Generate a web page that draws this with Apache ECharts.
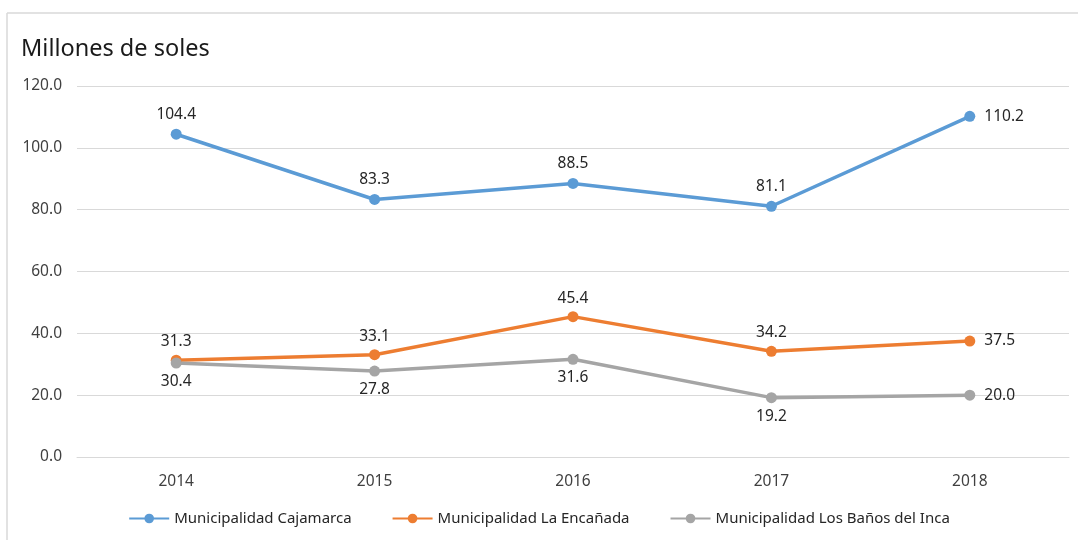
<!DOCTYPE html>
<html>
<head>
<meta charset="utf-8">
<script src="https://cdn.jsdelivr.net/npm/echarts@6/dist/echarts.min.js"></script>
<style>
  html, body { margin: 0; padding: 0; background: #fff; }
  #chart { width: 1078px; height: 540px; }
</style>
</head>
<body>
<div id="chart"></div>
<script>
// datos
const years = ['2014', '2015', '2016', '2017', '2018'];
const cajamarca = [104.4, 83.3, 88.5, 81.1, 110.2];
const encanada = [31.3, 33.1, 45.4, 34.2, 37.5];
const banos = [30.4, 27.8, 31.6, 19.2, 20.0];
const seriesNames = ['Municipalidad Cajamarca', 'Municipalidad La Encañada', 'Municipalidad Los Baños del Inca'];
const colors = ['#5B9BD5', '#ED7D31', '#A5A5A5'];

const font = 'Noto Sans';

function lastRight(arr, pos) {
  // la ultima etiqueta va a la derecha del punto
  return arr.map((v, i) => {
    if (i === arr.length - 1) {
      return { value: v, label: { position: 'right', distance: 9 } };
    }
    return { value: v, label: { position: pos } };
  });
}

function makeSeries(name, data, color, pos, dist) {
  return {
    name: name,
    type: 'line',
    data: lastRight(data, pos),
    symbol: 'circle',
    symbolSize: 11,
    itemStyle: { color: color },
    lineStyle: { width: 3.5, color: color },
    label: {
      show: true,
      distance: dist,
      color: '#262626',
      fontFamily: font,
      fontSize: 15.5,
      formatter: p => p.value.toFixed(1)
    }
  };
}

const chart = echarts.init(document.getElementById('chart'), null, { renderer: 'canvas' });

const option = {
  backgroundColor: '#fff',
  animation: false,
  title: {
    text: 'Millones de soles',
    left: 16,
    top: 32,
    textStyle: { fontFamily: font, fontSize: 23.5, fontWeight: 'normal', color: '#1a1a1a' }
  },
  legend: {
    bottom: 9,
    left: 'center',
    itemGap: 40,
    itemWidth: 40,
    itemHeight: 12,
    data: seriesNames,
    textStyle: { fontFamily: font, fontSize: 15, color: '#262626' }
  },
  grid: { left: 77, right: 9, top: 86, bottom: 83, containLabel: false },
  xAxis: {
    type: 'category',
    data: years,
    boundaryGap: true,
    axisLine: { show: true, lineStyle: { color: '#d9d9d9' } },
    axisTick: { show: false },
    axisLabel: { fontFamily: font, fontSize: 15.5, color: '#404040', margin: 17 }
  },
  yAxis: {
    type: 'value',
    min: 0,
    max: 120,
    interval: 20,
    axisLine: { show: false },
    axisTick: { show: false },
    splitLine: { lineStyle: { color: '#d9d9d9', width: 1 } },
    axisLabel: {
      fontFamily: font, fontSize: 15.5, color: '#404040', margin: 15,
      formatter: v => v.toFixed(1)
    }
  },
  series: [
    makeSeries(seriesNames[0], cajamarca, colors[0], 'top', 6),
    makeSeries(seriesNames[1], encanada, colors[1], 'top', 5),
    makeSeries(seriesNames[2], banos, colors[2], 'bottom', 5)
  ],
  graphic: [
    { type: 'line', shape: { x1: 7, y1: 13, x2: 1078, y2: 13 }, style: { stroke: '#d9d9d9', lineWidth: 1.5 } },
    { type: 'line', shape: { x1: 7, y1: 13, x2: 7, y2: 540 }, style: { stroke: '#d9d9d9', lineWidth: 1.5 } }
  ]
};

chart.setOption(option);
</script>
</body>
</html>
